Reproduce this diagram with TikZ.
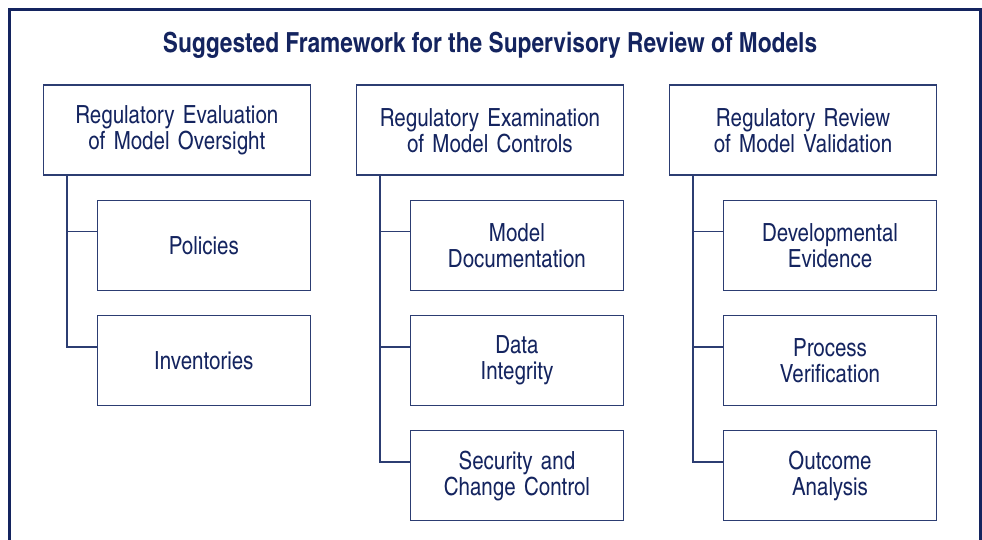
\documentclass[tikz,border=0pt]{standalone}
\usepackage{fontspec}
\usepackage{tikz}
\usetikzlibrary{
  positioning,  % Function "of" (e.g. [below=of x])
  calc,
}
\newfontfamily\cnfont{texgyreheroscn}[
  Extension=.otf,
  UprightFont=*-regular,
  BoldFont=*-bold
]
\definecolor{navy}{HTML}{14245F}
\definecolor{navyline}{HTML}{2C3D72}
\def\myhdist{44.5pt}
\def\myvdist{23.5pt}
\def\mytrunk{24.5pt}
\def\myhook{32pt}
\tikzset{
  font=\cnfont,
  x=1pt,
  y=-1pt,
  my head/.style={
    draw=navyline,
    line width=1.6pt,
    text=navy,
    minimum width=267pt,
    minimum height=90pt,
    text width=255pt,
    align=center,
    inner sep=0pt,
    font=\cnfont\fontsize{25}{26}\selectfont
  },
  my item/.style={
    my head,
    minimum width=213pt,
    text width=205pt
  },
  my link/.style={
    draw=navyline,
    line width=1.6pt
  },
  my frame/.style={
    draw=navy,
    line width=3pt
  }
}

\begin{document}
\begin{tikzpicture}
\useasboundingbox (0,0) rectangle (982,540);
\draw[my frame] (9.5,545) |- (980,9.5) -- (980,545);
\node[text=navy,font=\cnfont\bfseries\fontsize{27.7}{30}\selectfont] (title) at (490,45) {Suggested Framework for the Supervisory Review of Models};
% column heads
\node[my head,anchor=north west] (oversight) at (42.5,84.5) {Regulatory Evaluation\\of Model Oversight};
\node[my head] (controls)   [right=\myhdist of oversight] {Regulatory Examination\\of Model Controls};
\node[my head] (validation) [right=\myhdist of controls]  {Regulatory Review\\of Model Validation};
% items
\node[my item] (policies)    [below=\myvdist of oversight.south east,anchor=north east] {Policies};
\node[my item] (inventories) [below=\myvdist of policies] {Inventories};
\node[my item] (documentation) [below=\myvdist of controls.south east,anchor=north east] {Model\\Documentation};
\node[my item] (integrity)     [below=\myvdist of documentation] {Data\\Integrity};
\node[my item] (security)      [below=\myvdist of integrity] {Security and\\Change Control};
\node[my item] (evidence)     [below=\myvdist of validation.south east,anchor=north east] {Developmental\\Evidence};
\node[my item] (verification) [below=\myvdist of evidence] {Process\\Verification};
\node[my item] (outcome)      [below=\myvdist of verification] {Outcome\\Analysis};
% links
\foreach \head/\item in {oversight/policies,oversight/inventories,
    controls/documentation,controls/integrity,controls/security,
    validation/evidence,validation/verification,validation/outcome}
  \draw[my link] ([xshift=\mytrunk]\head.south west) |- ([yshift=-\myhook]\item.north west);
\end{tikzpicture}
\end{document}
